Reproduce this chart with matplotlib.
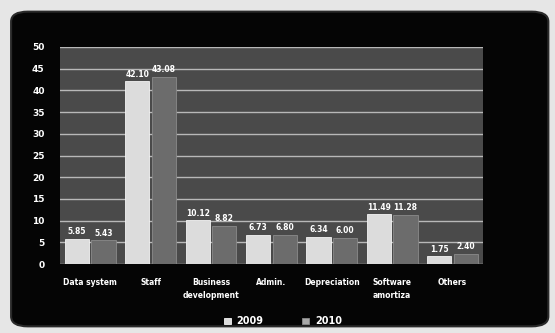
import numpy as np
import matplotlib.pyplot as plt
from matplotlib.patches import FancyBboxPatch

categories = ["Data system", "Staff", "Business\ndevelopment", "Admin.",
              "Depreciation", "Software\namortiza", "Others"]
vals_2009 = [5.85, 42.10, 10.12, 6.73, 6.34, 11.49, 1.75]
vals_2010 = [5.43, 43.08, 8.82, 6.80, 6.00, 11.28, 2.40]
yticks = list(range(0, 55, 5))

fig = plt.figure(figsize=(5.55, 3.33), dpi=100)
fig.patch.set_facecolor("#e6e6e6")

# black rounded panel behind the chart
panel = FancyBboxPatch((0.02, 0.02), 0.968, 0.945,
                       boxstyle="round,pad=0,rounding_size=0.03",
                       transform=fig.transFigure, facecolor="#050505",
                       edgecolor="#2a2a2a", lw=1.5, zorder=-5)
fig.patches.append(panel)

ax = fig.add_axes([0.108, 0.207, 0.762, 0.652])
ax.set_zorder(2)
ax.set_facecolor("#4a4a4a")
for s in ax.spines.values():
    s.set_visible(False)

x = np.arange(len(categories))
w = 0.4
b1 = ax.bar(x - w / 2 - 0.02, vals_2009, w, color="#dcdcdc", edgecolor="#f4f4f4",
            lw=0.6, zorder=3, label="2009")
b2 = ax.bar(x + w / 2 + 0.02, vals_2010, w, color="#6c6c6c", edgecolor="#8a8a8a",
            lw=0.6, zorder=3, label="2010")

for bars, vals in ((b1, vals_2009), (b2, vals_2010)):
    for r, v in zip(bars, vals):
        ax.text(r.get_x() + r.get_width() / 2, v + 0.6, f"{v:.2f}",
                ha="center", va="bottom", color="white", fontsize=5.5,
                fontweight="bold", zorder=4)

ax.set_xlim(-0.5, len(categories) - 0.5)
ax.set_ylim(0, 50)
ax.set_yticks(yticks)
ax.yaxis.grid(True, color="#b8b8b8", lw=1, zorder=1)
ax.tick_params(axis="y", length=0, colors="white", labelsize=6.5, pad=11)
ax.tick_params(axis="x", length=0, colors="white", labelsize=5.5, pad=10)
for t in ax.get_yticklabels():
    t.set_fontweight("bold")
ax.set_xticks(x)
ax.set_xticklabels(categories, fontweight="bold", linespacing=1.6)

leg = fig.legend(handles=[b1, b2], labels=["2009", "2010"], loc="center",
                 bbox_to_anchor=(0.51, 0.035), ncol=2, frameon=False,
                 fontsize=7, handlelength=0.7, handleheight=0.7,
                 columnspacing=4, handletextpad=0.6)
leg.set_zorder(3)
leg.legend_handles[1].set_facecolor("#a8a8a8")
for t in leg.get_texts():
    t.set_color("white")
    t.set_fontweight("bold")

fig.savefig("out.png", dpi=100, facecolor=fig.get_facecolor())
